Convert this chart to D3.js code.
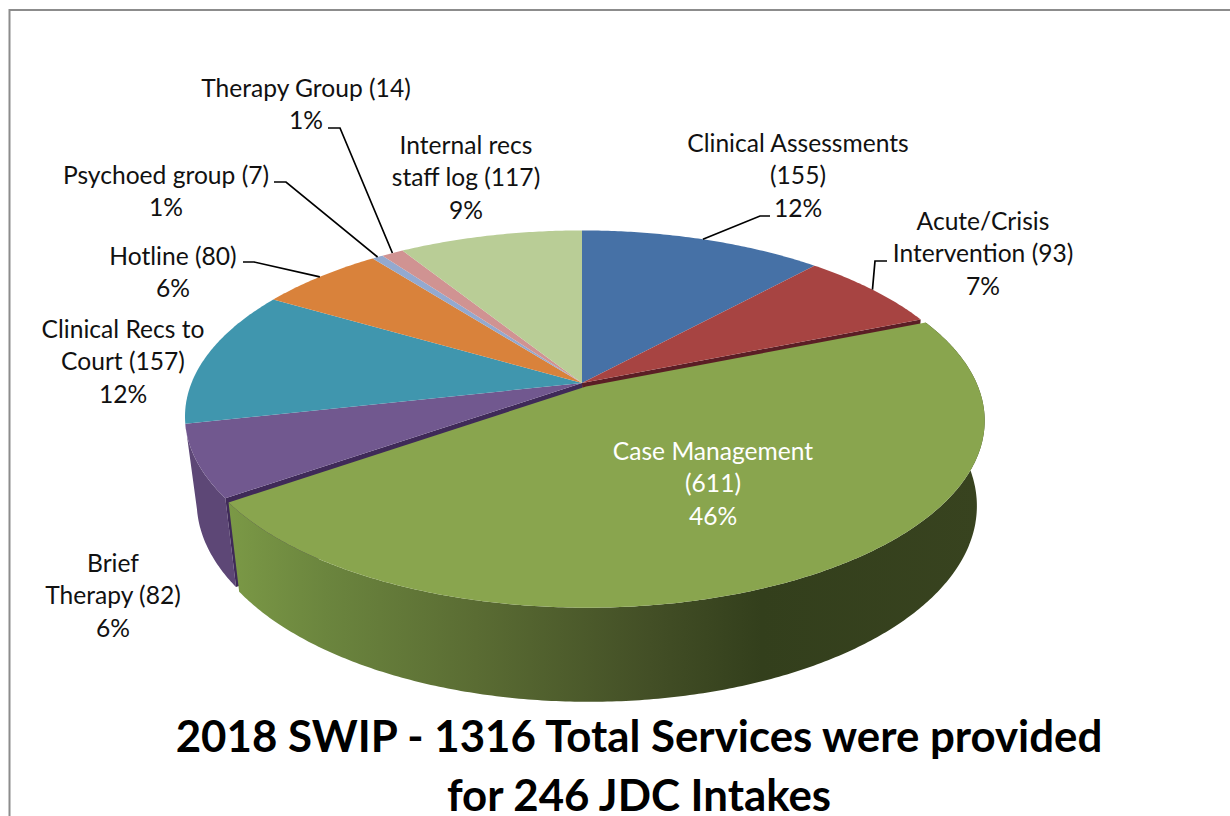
<!DOCTYPE html>
<html><head><meta charset="utf-8">
<script src="https://cdn.jsdelivr.net/npm/d3@7/dist/d3.min.js"></script>
<style>html,body{margin:0;padding:0;background:#fff;overflow:hidden}svg{display:block}text{font-family:Lato,sans-serif}</style>
</head><body><svg id="c" width="1230" height="816"></svg>
<script>
const categories=["Clinical Assessments","Acute/Crisis Intervention","Case Management","Brief Therapy","Clinical Recs to Court","Hotline","Psychoed group","Therapy Group","Internal recs staff log"];
const values=[155,93,611,82,157,80,7,14,117];
const percentLabels=["12%","7%","46%","6%","12%","6%","1%","1%","9%"];
const labelLines=[["Clinical Assessments","(155)","12%"],["Acute/Crisis","Intervention (93)","7%"],["Case Management","(611)","46%"],["Brief","Therapy (82)","6%"],["Clinical Recs to","Court (157)","12%"],["Hotline (80)","6%"],["Psychoed group (7)","1%"],["Therapy Group (14)","1%"],["Internal recs","staff log (117)","9%"]];
const titleLines=["2018 SWIP - 1316 Total Services were provided","for 246 JDC Intakes"];

// styles and layout, separate from the data
const topColors=["#4671a6","#a74442","#89a54e","#71588f","#4096ae","#d9823b","#93a9cf","#d09392","#b9cd96"];
const wallColors=["#34547c","#7c3231","#384320","#5d4776","#2f6f81","#a1602c","#6d7d99","#9a6d6c","#899871"];
const cutColors=["#2c466a","#5b1e25","#384320","#3f2a58","#28606f","#8a5225","#5d6b83","#845d5c","#75825f"];
const labelPos=[[798,143],[983,221],[713,451],[113,563],[123,329],[173,256],[166,175],[306,88],[466,145]];
const leaders=[[[770,216],[760,216]],[[887,261],[875,261]],null,null,null,[[243,262],[254,262]],[[274,182],[286,182]],[[328,128],[340,128]],null];
const TOP={x:582,y:383,R:390.5,S:180,k:0.18};
const BOT={x:584,y:466.5,R:381,S:188.5,k:0.18};
const EXPLODE=2, EXPL=0.022;

const svg=d3.select("#c");
const defs=svg.append("defs");
const grad=defs.append("linearGradient").attr("id","gw").attr("gradientUnits","userSpaceOnUse")
  .attr("x1",228).attr("x2",980).attr("y1",0).attr("y2",0);
[[0,"#7b9946"],[0.13,"#6b853e"],[0.33,"#5a6c33"],[0.56,"#434f26"],[0.71,"#333f1c"],[1,"#38431f"]]
  .forEach(s=>grad.append("stop").attr("offset",s[0]).attr("stop-color",s[1]));

// frame
svg.append("path").attr("d","M9.5,816V10H1230").attr("fill","none").attr("stroke","#8c8c8c").attr("stroke-width",2);

const arcs=d3.pie().sort(null).value(d=>d)(values);
function proj(L,theta,r,ex){
  let u=r*Math.sin(theta),v=-r*Math.cos(theta);
  if(ex){u+=EXPL*Math.sin(ex);v+=-EXPL*Math.cos(ex);}
  const w=1-L.k*v;
  return [L.x+L.R*u/w,L.y+L.S*v/w];
}
const line=d3.line();
function rim(L,a,b,ex){
  const n=Math.max(2,Math.ceil((b-a)/0.01));
  return d3.range(n+1).map(i=>proj(L,a+(b-a)*i/n,1,ex));
}
const layer=svg.append("g");
function wall(d,i){
  const ex=i===EXPLODE?(d.startAngle+d.endAngle)/2:null;
  const t=rim(TOP,d.startAngle,d.endAngle,ex), b=rim(BOT,d.startAngle,d.endAngle,ex).reverse();
  layer.append("path").attr("d",line(t.concat(b))+"Z")
    .attr("fill",i===EXPLODE?"url(#gw)":wallColors[i]);
}
function cut(d,i,ang){
  const q=[proj(TOP,ang,0),proj(TOP,ang,1),proj(BOT,ang,1),proj(BOT,ang,0)];
  layer.append("path").attr("d",line(q)+"Z").attr("fill",cutColors[i]);
}
// only slices whose middle faces the viewer show an outer wall
arcs.forEach((d,i)=>{
  const mid=(d.startAngle+d.endAngle)/2;
  if(i!==EXPLODE && mid>Math.PI/2 && mid<Math.PI*1.5) wall(d,i);
});
cut(arcs[1],1,arcs[1].endAngle);
cut(arcs[3],3,arcs[3].startAngle);
wall(arcs[EXPLODE],EXPLODE);
arcs.forEach((d,i)=>{
  const ex=i===EXPLODE?(d.startAngle+d.endAngle)/2:null;
  const pts=[proj(TOP,0,0,ex)].concat(rim(TOP,d.startAngle,d.endAngle,ex));
  layer.append("path").attr("d",line(pts)+"Z").attr("fill",topColors[i]);
});

// leader lines end on the rim at each slice's mid angle
arcs.forEach((d,i)=>{
  if(!leaders[i])return;
  const p=leaders[i].concat([proj(TOP,(d.startAngle+d.endAngle)/2,1)]);
  svg.append("path").attr("d",line(p)).attr("fill","none").attr("stroke","#000").attr("stroke-width",1.7);
});

// labels
labelLines.forEach((ls,i)=>{
  ls.forEach((s,j)=>{
    svg.append("text").attr("x",labelPos[i][0]).attr("y",labelPos[i][1]+j*32.4)
      .attr("dy","0.36em").attr("text-anchor","middle")
      .attr("font-size",24.6).attr("fill",i===EXPLODE?"#fff":"#111").text(s);
  });
});
titleLines.forEach((s,j)=>{
  svg.append("text").attr("x",639).attr("y",736+j*59).attr("dy","0.36em").attr("text-anchor","middle")
    .attr("font-size",43.8).attr("font-weight",700).attr("fill","#000").text(s);
});
</script></body></html>
